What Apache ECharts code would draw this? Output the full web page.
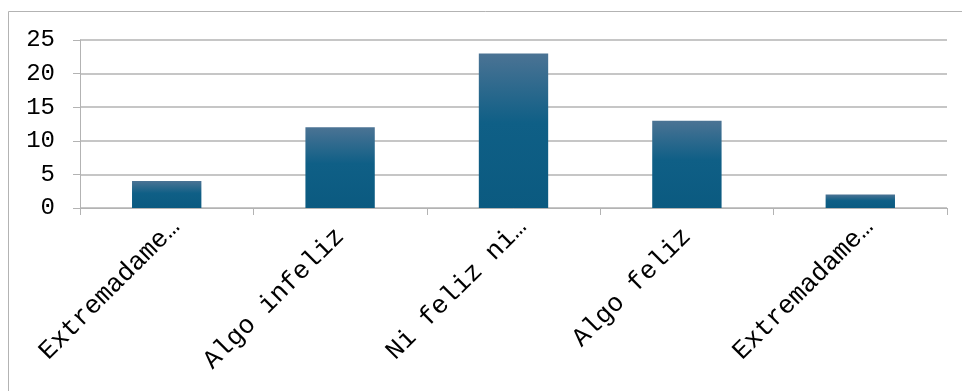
<!DOCTYPE html>
<html>
<head>
<meta charset="utf-8">
<script src="https://cdn.jsdelivr.net/npm/echarts@6/dist/echarts.min.js"></script>
<style>
	html, body { margin: 0; padding: 0; background: #fff; }
	#chart { width: 962px; height: 391px; }
</style>
</head>
<body>
<div id="chart"></div>
<script>
var categories = ['Extremadamente infeliz', 'Algo infeliz', 'Ni feliz ni infeliz', 'Algo feliz', 'Extremadamente feliz'];
var values = [4, 12, 23, 13, 2];
var yTicks = [0, 5, 10, 15, 20, 25];

var FONT = '"Liberation Mono", "DejaVu Sans Mono", monospace';
var LINE_COLOR = '#b3b3b3';

// etiquetas largas se cortan a 11 caracteres + …
function shortLabel(str) {
	if(str.length > 12) {
		return '{c|' + str.substr(0, 11) + '\u2026}';
	}
	return '{n|' + str + '}';
}

var chart = echarts.init(document.getElementById('chart'), null, {renderer: 'canvas'});
chart.setOption({
	animation: false,
	graphic: [{
		type: 'rect',
		shape: {x: 8.5, y: 11.5, width: 970, height: 400},
		style: {fill: 'none', stroke: LINE_COLOR, lineWidth: 1},
		silent: true
	}],
	grid: {
		left: 80,
		right: 15,
		top: 40,
		bottom: 183
	},
	xAxis: {
		type: 'category',
		data: categories,
		axisLine: {lineStyle: {color: LINE_COLOR, width: 1}},
		axisTick: {show: true, length: 7, lineStyle: {color: LINE_COLOR}},
		axisLabel: {
			rotate: 45,
			margin: 6,
			verticalAlign: 'top',
			color: '#000',
			fontFamily: FONT,
			fontSize: 26,
			formatter: shortLabel,
			rich: {
				c: {fontFamily: FONT, fontSize: 26, color: '#000'},
				n: {fontFamily: FONT, fontSize: 26, color: '#000', padding: [0, 13, 0, 0]}
			}
		}
	},
	yAxis: {
		type: 'value',
		min: yTicks[0],
		max: yTicks[yTicks.length - 1],
		interval: 5,
		axisLine: {show: true, lineStyle: {color: LINE_COLOR, width: 1}},
		axisTick: {show: true, length: 7, lineStyle: {color: LINE_COLOR}},
		splitLine: {lineStyle: {color: LINE_COLOR, width: 1.5}},
		axisLabel: {
			margin: 25,
			color: '#000',
			fontFamily: FONT,
			fontSize: 24
		}
	},
	series: [{
		type: 'bar',
		data: values,
		barWidth: '40%',
		itemStyle: {
			color: new echarts.graphic.LinearGradient(0, 0, 0, 1, [
				{offset: 0, color: '#4b7394'},
				{offset: 0.45, color: '#0f5f86'},
				{offset: 1, color: '#0b5a80'}
			])
		}
	}]
});
</script>
</body>
</html>
